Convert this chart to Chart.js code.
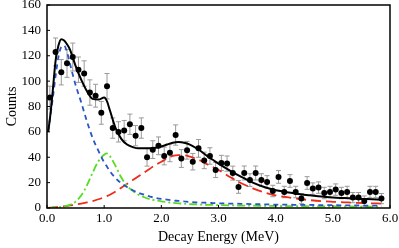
<!DOCTYPE html>
<html>
<head>
<meta charset="utf-8">
<script src="https://cdn.jsdelivr.net/npm/chart.js@4.4.0/dist/chart.umd.min.js"></script>
<style>
  html, body { margin: 0; padding: 0; background: #fff; }
  #wrap { width: 399px; height: 248px; }
</style>
</head>
<body>
<div id="wrap"><canvas id="decay"></canvas></div>
<script>
// measured points
const energy = [0.05,0.15,0.25,0.35,0.45,0.55,0.65,0.75,0.85,0.95,
    1.05,1.15,1.25,1.35,1.45,1.55,1.65,1.75,1.85,1.95,
    2.05,2.15,2.25,2.35,2.45,2.55,2.65,2.75,2.85,2.95,
    3.05,3.15,3.25,3.35,3.45,3.55,3.65,3.75,3.85,3.95,
    4.05,4.15,4.25,4.35,4.45,4.55,4.65,4.75,4.85,4.95,
    5.05,5.15,5.25,5.35,5.45,5.55,5.65,5.75,5.85]
const counts = [87,123,107,114,119,109,106,91,88.5,75,
    96,63,60,61,66,57,63,40,46,49,
    41,43.5,57.5,39,45.5,36.5,47,37.5,41,30,
    35.5,35,27.5,16.6,27.6,22,27.6,22,20.5,13.4,
    24.5,12.6,21.3,12.6,7.4,19.7,15.3,16.1,11.8,12.6,
    14.5,11.8,12.6,8.2,8.2,5.5,12.6,12.6,7.4]
const errors = [9,11,10,11,11,10,10,10,9,9,
    10,8,8,8,8,8,8,7,7,7,
    7,7,8,7,7,6.5,7,6.5,6.5,6,
    6,6,5.5,5,5.5,5,5.5,5,5,4.5,
    5,4.5,5,4.5,4,5,4.5,4.5,4.5,4.5,
    4.5,4.5,4.5,4,4,4,4.5,4.5,4]

// fit curves, sampled
const curveE = [0.02,0.05,0.1,0.15,0.2,0.25,0.3,0.35,0.4,
    0.5,0.6,0.7,0.8,0.9,1.0,1.05,
    1.1,1.2,1.3,1.4,1.5,1.6,1.7,1.8,1.9,2.0,2.1,2.2,2.3,2.4,2.5,2.6,2.7,2.8,2.9,3.0,
    3.2,3.4,3.6,3.8,4.0,4.2,4.4,4.6,4.8,5.0,5.2,5.4,5.6,5.85]
const totalFit = [60,70,92,116,128,133,132,129,125,
    112,101,92,86,85.5,87,84,
    77,63,54.5,50,48,47,47,47,47.5,48.5,50,51.5,52,51.5,50,47.5,44.5,41,38,35,
    29.5,24.5,20,16.5,14,12.5,11,10,9,8.3,7.8,7.3,7,6.6]
const peak1 = [60,70,86,104,119,127,128,123,114,
    97,83,68,55,45,36,32.5,
    29,23.5,19.5,16.5,14,12,10.5,9,8,7.2,6.6,6,5.6,5.2,4.8,4.5,4.3,4.1,3.9,3.7,
    3.5,3.3,3.1,2.9,2.7,2.6,2.5,2.4,2.3,2.2,2.1,2,1.9,1.8]
const peak2 = [0,0.1,0.2,0.4,0.6,0.9,1.3,1.8,2.5,
    5,10,18,28,37,42,43,
    41,33,24,17.5,13.5,10.5,8.5,7,6,5.2,4.6,4.1,3.7,3.4,3.1,2.9,2.7,2.5,2.4,2.3,
    2.1,1.9,1.8,1.7,1.6,1.5,1.4,1.35,1.3,1.25,1.2,1.15,1.1,1.05]
const peak3 = [0,0.2,0.4,0.6,0.8,1.1,1.3,1.6,2,
    2.7,3.5,4.4,5.5,6.9,8.5,9.4,
    10.5,13,16,19,22,25,28,31,34,36.5,39,41,41.6,41.5,40.5,39,37,34.5,32.3,30,
    24.5,19.5,15.5,12.3,10,8.5,7.2,6.2,5.4,4.9,4.5,4.1,3.8,3.5]

const xTicks = [0, 1, 2, 3, 4, 5, 6]
const yTicks = [0, 20, 40, 60, 80, 100, 120, 140, 160]

function pts(xs, ys) {
    return xs.map((x, i) => ({ x: x, y: ys[i] }))
}

function curve(label, ys, color, dash, width) {
    return {
        type: 'line',
        label: label,
        data: pts(curveE, ys),
        borderColor: color,
        borderWidth: width,
        borderDash: dash,
        pointRadius: 0,
        fill: false,
        cubicInterpolationMode: 'monotone'
    }
}

// error bars + frame + inward ticks
const extras = {
    id: 'extras',
    beforeDatasetsDraw(chart) {
        const ctx = chart.ctx
        const xs = chart.scales.x, ys = chart.scales.y
        ctx.save()
        ctx.strokeStyle = '#9a9a9a'
        ctx.lineWidth = 1
        for (let i = 0; i < energy.length; i++) {
            const px = xs.getPixelForValue(energy[i])
            const top = ys.getPixelForValue(counts[i] + errors[i])
            const bot = ys.getPixelForValue(Math.max(0, counts[i] - errors[i]))
            ctx.beginPath()
            ctx.moveTo(px, top); ctx.lineTo(px, bot)
            ctx.moveTo(px - 2.5, top); ctx.lineTo(px + 2.5, top)
            ctx.moveTo(px - 2.5, bot); ctx.lineTo(px + 2.5, bot)
            ctx.stroke()
        }
        ctx.restore()
    },
    afterDatasetsDraw(chart) {
        const ctx = chart.ctx
        const a = chart.chartArea
        const xs = chart.scales.x, ys = chart.scales.y
        ctx.save()
        ctx.strokeStyle = '#000'
        ctx.lineWidth = 1.5
        ctx.strokeRect(a.left, a.top, a.right - a.left, a.bottom - a.top)
        ctx.lineWidth = 1
        ctx.beginPath()
        xTicks.forEach(v => {
            const px = xs.getPixelForValue(v)
            ctx.moveTo(px, a.bottom); ctx.lineTo(px, a.bottom - 3)
        })
        yTicks.forEach(v => {
            const py = ys.getPixelForValue(v)
            ctx.moveTo(a.left, py); ctx.lineTo(a.left + 3, py)
        })
        ctx.stroke()
        ctx.restore()
    }
}

const serif = 'Liberation Serif'

new Chart(document.getElementById('decay'), {
    type: 'scatter',
    data: {
        datasets: [
            {
                type: 'scatter',
                label: 'Data',
                data: pts(energy, counts),
                pointRadius: 3,
                pointBackgroundColor: '#000',
                pointBorderWidth: 0,
                order: 0
            },
            Object.assign(curve('Total', totalFit, '#000', [], 2), { order: 1 }),
            Object.assign(curve('Peak 1', peak1, '#2a55c8', [5, 4], 1.8), { order: 2 }),
            Object.assign(curve('Peak 2', peak2, '#55dd22', [8, 3, 2, 3], 1.8), { order: 3 }),
            Object.assign(curve('Peak 3', peak3, '#ee2a1a', [10, 5], 1.8), { order: 4 })
        ]
    },
    options: {
        responsive: true,
        maintainAspectRatio: false,
        animation: false,
        layout: { padding: { top: 5, right: 9, left: 0, bottom: 0 } },
        plugins: {
            legend: { display: false },
            tooltip: { enabled: false }
        },
        scales: {
            x: {
                type: 'linear',
                min: 0,
                max: 6,
                afterBuildTicks: s => { s.ticks = xTicks.map(v => ({ value: v })) },
                afterFit: s => { s.height = 40; s.paddingLeft = 0; s.paddingRight = 0 },
                grid: { display: false, drawTicks: false },
                border: { display: false },
                ticks: {
                    color: '#000',
                    font: { family: serif, size: 13 },
                    padding: 3,
                    maxRotation: 0,
                    callback: v => v.toFixed(1)
                },
                title: {
                    display: true,
                    text: 'Decay Energy (MeV)',
                    color: '#000',
                    font: { family: serif, size: 14 },
                    padding: { top: 6, bottom: 2 }
                }
            },
            y: {
                min: 0,
                max: 160,
                afterBuildTicks: s => { s.ticks = yTicks.map(v => ({ value: v })) },
                afterFit: s => { s.width = 47; s.paddingTop = 0; s.paddingBottom = 0 },
                grid: { display: false, drawTicks: false },
                border: { display: false },
                ticks: {
                    color: '#000',
                    font: { family: serif, size: 13 },
                    padding: 6
                },
                title: {
                    display: true,
                    text: 'Counts',
                    color: '#000',
                    font: { family: serif, size: 14 },
                    padding: { bottom: 4 }
                }
            }
        }
    },
    plugins: [extras]
})
</script>
</body>
</html>
